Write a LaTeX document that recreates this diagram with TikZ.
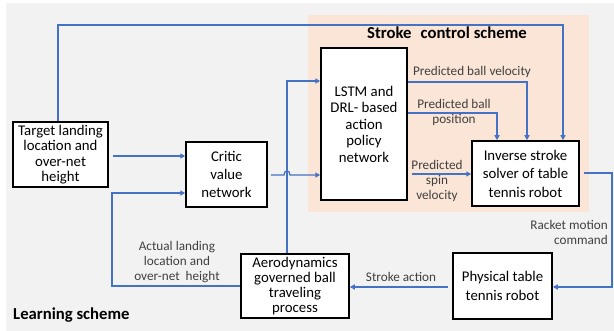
\documentclass[tikz,border=0pt]{standalone}
\usepackage{fontspec}
\setmainfont{Carlito}
\usetikzlibrary{arrows.meta}
\definecolor{bgray}{HTML}{F2F2F2}
\definecolor{peach}{HTML}{FBE5D6}
\definecolor{lblue}{HTML}{4472C4}
\definecolor{labelgray}{HTML}{404040}
\begin{document}
\begin{tikzpicture}[x=1pt,y=-1pt,
 box/.style={draw=black, line width=1.5pt, fill=white, align=center, inner sep=1pt, text=black},
 lbl/.style={align=center, text=labelgray, font=\fontsize{13.2}{15}\selectfont, inner sep=0pt},
 head/.style={font=\fontsize{16.7}{18}\selectfont\bfseries, text=black, inner sep=0pt},
 conn/.style={draw=lblue, line width=1.3pt, -{Triangle[length=5pt,width=5pt]}},
]
\useasboundingbox (0,0) rectangle (614,331);
\fill[bgray] (6,3) rectangle (614,331);
\fill[peach] (308,15) rectangle (589,212);

\node[box, minimum width=95pt, minimum height=65pt, font=\fontsize{14.8}{15.3}\selectfont] (target) at (60.5,154.5) {Target landing\\location and\\over-net\\height};
\node[box, minimum width=81pt, minimum height=65pt, font=\fontsize{14.8}{18}\selectfont] (crit) at (226.5,174.5) {Critic\\value\\network};
\node[box, minimum width=86pt, minimum height=152pt, font=\fontsize{14.8}{16.5}\selectfont] (lstm) at (364,124) {LSTM and\\DRL- based\\action\\policy\\network};
\node[box, minimum width=107pt, minimum height=65pt, font=\fontsize{14.8}{18.5}\selectfont] (inv) at (525.5,173.5) {Inverse stroke\\solver of table\\tennis robot};
\node[box, minimum width=99pt, minimum height=66pt, font=\fontsize{14.8}{19}\selectfont] (phys) at (502.5,286) {Physical table\\tennis robot};
\node[box, minimum width=108pt, minimum height=64pt, font=\fontsize{14.8}{14.8}\selectfont] (aero) at (295,286) {Aerodynamics\\governed ball\\traveling\\process};

\node[head] (sch) at (447,33) {Stroke\hspace{0.55em}control scheme};
\node[head, anchor=west] (lrn) at (13,315) {Learning scheme};

\node[lbl] (lv) at (472,72) {Predicted ball velocity};
\node[lbl] (lp) at (454,112.5) {Predicted ball\\position};
\node[lbl] (ls) at (437,181) {Predicted\\spin\\velocity};
\node[lbl, align=right, anchor=east] (lr) at (608,232.5) {Racket motion\\command};
\node[lbl] (lsa) at (401,277) {Stroke action};
\node[lbl] (la) at (177,262) {Actual landing\\location and\\over-net\ \ height};

\draw[conn] (target.north -| 58,0) -- (58,25) -- (563,25) -- (inv.north -| 563,0);
\draw[conn, shorten <=4pt] (target.east |- 0,156) -- (crit.west |- 0,156);
\draw[conn] (aero.north -| 287,0) -- (287,81) -- (lstm.west |- 0,81);
\draw[conn, shorten <=3pt] (crit.east |- 0,175) -- (284,175) .. controls (284,169.5) and (290,169.5) .. (290,175) -- (lstm.west |- 0,175);
\draw[conn] (lstm.east |- 0,82) -- (527,82) -- (inv.north -| 527,0);
\draw[conn] (lstm.east |- 0,113) -- (497,113) -- (inv.north -| 497,0);
\draw[conn, shorten <=4pt] (lstm.east |- 0,174) -- (inv.west |- 0,174);
\draw[conn, shorten <=4pt] (inv.east |- 0,173) -- (612,173) -- (612,287) -- (phys.east |- 0,287);
\draw[conn, shorten <=4pt] (phys.west |- 0,287) -- (aero.east |- 0,287);
\draw[conn] (aero.west |- 0,286) -- (112,286) -- (112,193) -- (crit.west |- 0,193);
\end{tikzpicture}
\end{document}
